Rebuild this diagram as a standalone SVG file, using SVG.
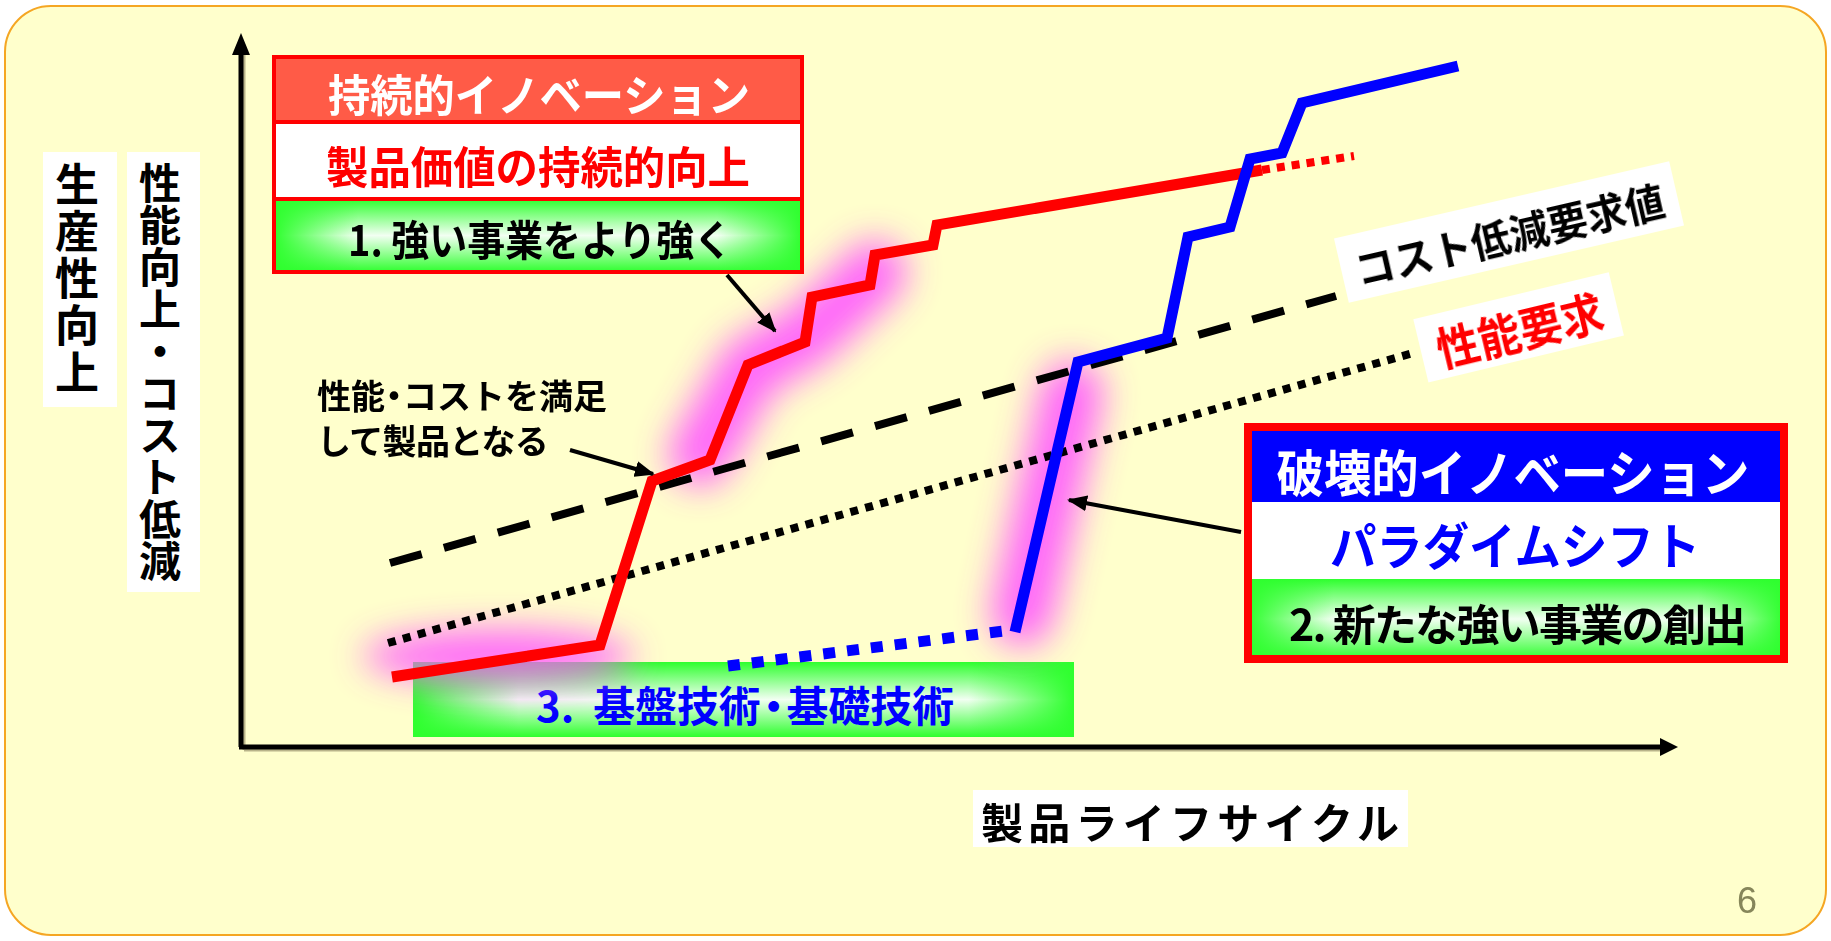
<svg xmlns="http://www.w3.org/2000/svg" width="1831" height="941" viewBox="0 0 1831 941">
<defs>
<style>
.t{font-family:"Noto Sans CJK JP","Noto Sans CJK SC",sans-serif;font-weight:bold;dominant-baseline:central;text-anchor:middle}
.tl{font-family:"Noto Sans CJK JP","Noto Sans CJK SC",sans-serif;font-weight:bold;dominant-baseline:central;text-anchor:start}
.tv{font-family:"Noto Sans CJK JP","Noto Sans CJK SC",sans-serif;font-weight:bold;writing-mode:vertical-rl;text-orientation:upright;fill:#000}
.ax{stroke:#000;stroke-width:5;fill:none}
.axs{stroke:#B9B48A;stroke-width:3;fill:none}
.conn{stroke:#000;stroke-width:4;fill:none;marker-end:url(#ah)}
.glow{fill:none;stroke:#FF55FF;stroke-linecap:round;stroke-linejoin:round;filter:url(#blur)}
</style>
<linearGradient id="gV" x1="0" y1="0" x2="0" y2="1">
<stop offset="0" stop-color="#2EFF2E"/>
<stop offset="0.5" stop-color="#F2FFF2"/>
<stop offset="1" stop-color="#2EFF2E"/>
</linearGradient>
<linearGradient id="gH" x1="0" y1="0" x2="1" y2="0">
<stop offset="0" stop-color="#2EFF2E" stop-opacity="1"/>
<stop offset="0.16" stop-color="#2EFF2E" stop-opacity="0"/>
<stop offset="0.84" stop-color="#2EFF2E" stop-opacity="0"/>
<stop offset="1" stop-color="#2EFF2E" stop-opacity="1"/>
</linearGradient>
<filter id="blur" filterUnits="userSpaceOnUse" x="0" y="0" width="1831" height="941">
<feGaussianBlur stdDeviation="18"/>
</filter>
<marker id="ah" markerUnits="userSpaceOnUse" viewBox="0 0 20 16" markerWidth="20" markerHeight="16" refX="18" refY="8" orient="auto">
<path d="M0,0 L20,8 L0,16 z" fill="#000"/>
</marker>
</defs>

<rect id="background" x="5" y="6" width="1821" height="929" rx="46" ry="46" fill="#FFFFCC" stroke="#F5A623" stroke-width="2"/>

<g id="axis-label-productivity">
<rect x="43" y="152" width="74" height="255" fill="#FFFFFF"/>
<text class="tv" x="77" y="162" font-size="44" letter-spacing="3">生産性向上</text>
</g>

<g id="axis-label-performance">
<rect x="127" y="152" width="73" height="440" fill="#FFFFFF"/>
<text class="tv" x="160" y="162" font-size="42" letter-spacing="0">性能向上・コスト低減</text>
</g>

<g id="axes">
<line class="axs" x1="244" y1="750" x2="1662" y2="750"/>
<line class="axs" x1="244" y1="55" x2="244" y2="750"/>
<line class="ax" x1="241" y1="747" x2="241" y2="50"/>
<polygon points="241,33 232,55 250,55" fill="#000"/>
<line class="ax" x1="239" y1="747" x2="1662" y2="747"/>
<polygon points="1678,747 1660,738 1660,756" fill="#000"/>
</g>

<g id="node-basic-tech">
<rect x="413" y="662" width="661" height="75" fill="url(#gV)"/>
<rect x="413" y="662" width="661" height="75" fill="url(#gH)"/>
<text class="t" x="745" y="703" font-size="42" fill="#0000FF" textLength="418" lengthAdjust="spacingAndGlyphs" xml:space="preserve">3.  基盤技<tspan letter-spacing="-8">術・</tspan>基礎技術</text>
</g>

<g id="glows" opacity="0.9">
<ellipse cx="498" cy="656" rx="135" ry="26" fill="#FF55FF" filter="url(#blur)"/>
<polyline class="glow" stroke-width="62" points="700,455 750,368 808,335 875,272"/>
<polyline class="glow" stroke-width="62" points="1022,615 1072,392"/>
</g>

<g id="curves">
<line x1="390" y1="563" x2="1336" y2="296" stroke="#000" stroke-width="8" stroke-dasharray="33 23"/>
<line x1="388" y1="643" x2="1413" y2="353" stroke="#000" stroke-width="8" stroke-dasharray="8 7.5"/>
<line x1="728" y1="666" x2="1012" y2="630" stroke="#0000FF" stroke-width="11" stroke-dasharray="12 12"/>
<polyline points="392,677 600,645 652,481 710,460 748,365 805,342 812,297 870,285 875,255 933,245 937,225 1262,170" fill="none" stroke="#FF0000" stroke-width="11" stroke-linejoin="miter"/>
<line x1="1262" y1="170" x2="1354" y2="156" stroke="#FF0000" stroke-width="8" stroke-dasharray="8 7"/>
<polyline points="1015,632 1078,362 1167,338 1188,237 1230,227 1250,159 1282,153 1302,103 1458,66" fill="none" stroke="#0000FF" stroke-width="11" stroke-linejoin="miter"/>
</g>

<g id="connectors">
<line class="conn" x1="727" y1="275" x2="775" y2="331"/>
<line class="conn" x1="570" y1="450" x2="653" y2="474"/>
<line class="conn" x1="1241" y1="532" x2="1069" y2="500"/>
</g>

<g id="node-sustaining">
<rect x="274" y="57" width="528" height="65" fill="#FF5B47"/>
<rect x="274" y="122" width="528" height="77" fill="#FFFFFF"/>
<rect x="274" y="199" width="528" height="73" fill="url(#gV)"/>
<rect x="274" y="199" width="528" height="73" fill="url(#gH)"/>
<line x1="274" y1="122" x2="802" y2="122" stroke="#FF0000" stroke-width="4"/>
<line x1="274" y1="199" x2="802" y2="199" stroke="#FF0000" stroke-width="4"/>
<rect x="274" y="57" width="528" height="215" fill="none" stroke="#FF0000" stroke-width="4"/>
<text class="t" x="539" y="93" font-size="44" fill="#FFFFFF" textLength="422" lengthAdjust="spacingAndGlyphs">持続的イノベーション</text>
<text class="t" x="538" y="165" font-size="44" fill="#FF0000" textLength="424" lengthAdjust="spacingAndGlyphs">製品価値の持続的向上</text>
<text class="t" x="540" y="237" font-size="42" fill="#000000" textLength="384" lengthAdjust="spacingAndGlyphs">1. 強い事業をより強く</text>
</g>

<g id="node-disruptive">
<rect x="1248" y="427" width="536" height="75" fill="#0000FF"/>
<rect x="1248" y="502" width="536" height="77" fill="#FFFFFF"/>
<rect x="1248" y="579" width="536" height="80" fill="url(#gV)"/>
<rect x="1248" y="579" width="536" height="80" fill="url(#gH)"/>
<rect x="1248" y="427" width="536" height="232" fill="none" stroke="#FF0000" stroke-width="8"/>
<text class="t" x="1513" y="470" font-size="50" fill="#FFFFFF" textLength="473" lengthAdjust="spacingAndGlyphs">破壊的イノベーション</text>
<text class="t" x="1515" y="543" font-size="50" fill="#0000FF" textLength="370" lengthAdjust="spacingAndGlyphs">パラダイムシフト</text>
<text class="t" x="1518" y="622" font-size="43" fill="#000000" textLength="458" lengthAdjust="spacing">2. 新たな強い事業の創出</text>
</g>

<g id="label-cost" transform="translate(1509,232) rotate(-13)">
<rect x="-172" y="-33" width="344" height="66" fill="#FFFFFF"/>
<text class="t" x="0" y="1" font-size="41" fill="#000000" textLength="316" lengthAdjust="spacingAndGlyphs">コスト低減要求値</text>
</g>

<g id="label-performance" transform="translate(1518,327) rotate(-13.5)">
<rect x="-100" y="-32" width="201" height="65" fill="#FFFFFF"/>
<text class="t" x="1" y="1" font-size="46" fill="#FF0000" textLength="170" lengthAdjust="spacingAndGlyphs">性能要求</text>
</g>

<g id="label-satisfy">
<text class="tl" font-size="34" fill="#000000"><tspan x="317" y="394">性<tspan letter-spacing="-8">能・</tspan>コストを満足</tspan><tspan x="317" y="439" letter-spacing="-0.7">して製品となる</tspan></text>
</g>

<g id="axis-label-lifecycle">
<rect x="973" y="790" width="435" height="57" fill="#FFFFFF"/>
<text class="t" x="1190" y="820" font-size="42" fill="#000000" textLength="418" lengthAdjust="spacing">製品ライフサイクル</text>
</g>

<text id="page-number" x="1747" y="913" font-family="Liberation Sans, Arial, sans-serif" font-size="36" fill="#86865A" text-anchor="middle">6</text>
</svg>
